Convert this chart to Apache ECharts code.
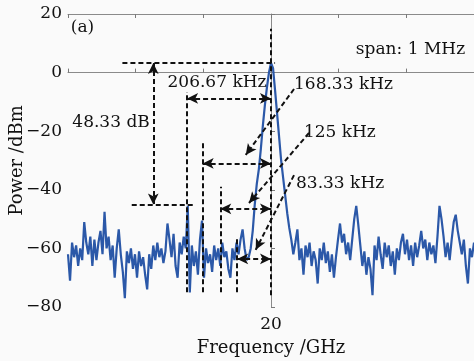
<!DOCTYPE html>
<html>
<head>
<meta charset="utf-8">
<script src="https://cdn.jsdelivr.net/npm/echarts@6/dist/echarts.min.js"></script>
<style>
html,body{margin:0;padding:0;background:#fafafa;}
#c{width:474px;height:361px;}
</style>
</head>
<body>
<div id="c"></div>
<script>
// Sweep grid (offset from 20 GHz, kHz)
const freqStartKHz = -500;
const freqStepKHz = 5;
// Measured power (dBm), one value per sweep point
const powerDbm = [
 -62,-71,-58,-63,-59,-66,-60,-64,-51,-58,
 -62,-56,-66,-57,-64,-58,-54,-62,-47.5,-60,
 -56,-64,-59,-70,-60,-53.5,-62,-68,-77,-61,
 -65,-60,-67,-62,-70,-61,-66,-63,-69,-74,
 -62,-67,-59,-64,-58,-63,-60,-65,-61,-51.5,
 -57,-63,-55,-66,-70,-58,-62,-56,-60,-45.5,
 -75,-59,-66,-61,-69,-57,-50.5,-70,-60,-65,
 -62,-68,-59,-64,-60,-66,-58,-63,-61,-67,
 -70,-60,-64,-58,-62,-57,-53.5,-60,-64,-63,
 -60,-54,-45,-38,-33,-26,-18,-11,-5,0,
 3.3,1.5,-6,-14,-22,-30,-36,-42,-48,-53,
 -57,-62,-58,-53.5,-64,-60,-69,-59,-63,-58,
 -66,-61,-64,-72,-60,-64,-58,-65,-61,-68,
 -62,-70,-63,-57,-51.5,-58,-55,-62,-58,-64,
 -57,-50,-45.5,-52,-59,-66,-61,-69,-63,-67,
 -76,-59,-64,-56,-62,-67,-58,-63,-59,-66,
 -61,-69,-60,-64,-58,-55,-62,-57,-64,-59,
 -66,-58,-63,-59,-54,-60,-57,-64,-58,-62,
 -59,-65,-56,-45.5,-50,-56,-63,-58,-64,-57,
 -51,-48.5,-54,-58,-62,-57,-66,-72,-60,-63,
 -58
];
// Annotation values
const peakDbm = 3.3;
const sidebandDbm = -45;
const ratioLabel = '48.33 dB';
const spacingKHz = [-206.67, -168.33, -125, -83.33];
const spacingLabels = ['206.67 kHz', '168.33 kHz', '125 kHz', '83.33 kHz'];
const spacingArrowDbm = [-8.8, -31, -46.5, -63.6];
const spacingLineTopDbm = [-6.6, -24, -39, -56.5];
const yTicks = [-80, -60, -40, -20, 0, 20];
const centerLabel = '20';

const seriesData = powerDbm.map((v, i) => [freqStartKHz + i * freqStepKHz, v]);

const FONT = 'DejaVu Serif';
const INK = '#111';
const dash = { color: INK, width: 2, type: [5, 3] };
const ARW = [8, 11];

function seg(a, b, s0, s1) {
  return [{ coord: a, symbol: s0 || 'none', symbolSize: ARW }, { coord: b, symbol: s1 || 'none', symbolSize: ARW }];
}
const lines = [];
// carrier marker
lines.push(seg([0, -76], [0, 15]));
// peak & sideband level lines
lines.push(seg([-366, peakDbm], [10, peakDbm]));
lines.push(seg([-343, sidebandDbm], [-190, sidebandDbm]));
// power ratio arrow
lines.push(seg([-290, peakDbm], [-290, sidebandDbm], 'arrow', 'arrow'));
// spacing markers
spacingKHz.forEach((f, i) => {
  lines.push(seg([f, -75], [f, spacingLineTopDbm[i]]));
  lines.push(seg([f, spacingArrowDbm[i]], [0, spacingArrowDbm[i]], 'arrow', 'arrow'));
});
// leader arrows
lines.push(seg([56.7, -5.6], [-62.3, -28.1], 'none', 'arrow'));
lines.push(seg([93.6, -20.6], [-54.2, -44.5], 'none', 'arrow'));
lines.push(seg([56.7, -35], [-37.7, -60.5], 'none', 'arrow'));

const chart = echarts.init(document.getElementById('c'), null, { renderer: 'canvas' });
const axisLine = { show: true, lineStyle: { color: '#8a8a8a', width: 1 } };
const tick = { show: true, inside: true, length: 4, lineStyle: { color: '#7a7a7a' } };
chart.setOption({
  backgroundColor: '#fafafa',
  animation: false,
  grid: { left: 68, top: 14, right: 0, bottom: 54, containLabel: false, outerBoundsMode: 'none' },
  xAxis: [{
    type: 'value', min: -500, max: 500, interval: 1000 / 6,
    axisLine: axisLine, axisTick: tick, splitLine: { show: false },
    axisLabel: { margin: 9, fontFamily: FONT, fontSize: 17, color: INK,
      formatter: v => Math.abs(v) < 1 ? centerLabel : '' },
    name: 'Frequency /GHz', nameLocation: 'middle', nameGap: 32, nameMoveOverlap: false,
    nameTextStyle: { fontFamily: FONT, fontSize: 18, color: INK }
  }, {
    type: 'value', position: 'top', min: -500, max: 500, interval: 1000 / 6,
    axisLine: axisLine, axisTick: tick, axisLabel: { show: false }, splitLine: { show: false }
  }],
  yAxis: {
    type: 'value', min: yTicks[0], max: yTicks[yTicks.length - 1], interval: 20,
    axisLine: axisLine, axisTick: tick, splitLine: { show: false },
    axisLabel: { margin: 6, fontFamily: FONT, fontSize: 17, color: INK,
      formatter: v => (v < 0 ? '\u2212' + Math.abs(v) : String(v)) },
    name: 'Power /dBm', nameLocation: 'middle', nameGap: 42, nameMoveOverlap: false,
    nameTextStyle: { fontFamily: FONT, fontSize: 18, color: INK }
  },
  series: [{
    type: 'line', data: seriesData, showSymbol: false, xAxisIndex: 0,
    lineStyle: { color: '#2b58a8', width: 2.2 }, itemStyle: { color: '#2b58a8' },
    markLine: { silent: true, animation: false, label: { show: false },
      lineStyle: dash, emphasis: { disabled: true }, data: lines }
  }]
});

function px(c) { return chart.convertToPixel({ gridIndex: 0 }, c); }
const texts = [
  { t: '(a)', c: [-493, 15.2], align: 'left' },
  { t: 'span: 1 MHz', c: [209, 7.7], align: 'left' },
  { t: ratioLabel, c: [-394, -16.9], align: 'center' },
  { t: spacingLabels[0], c: [-133, -3.5], align: 'center' },
  { t: spacingLabels[1], c: [56.7, -4.2], align: 'left' },
  { t: spacingLabels[2], c: [81, -20.6], align: 'left' },
  { t: spacingLabels[3], c: [61.6, -38], align: 'left' }
];
chart.setOption({
  graphic: texts.map(o => {
    const p = px(o.c);
    return { type: 'text', x: p[0], y: p[1], silent: true,
      style: { text: o.t, fontFamily: FONT, fontSize: 17, fill: INK,
        align: o.align, verticalAlign: 'middle' } };
  })
});
</script>
</body>
</html>
